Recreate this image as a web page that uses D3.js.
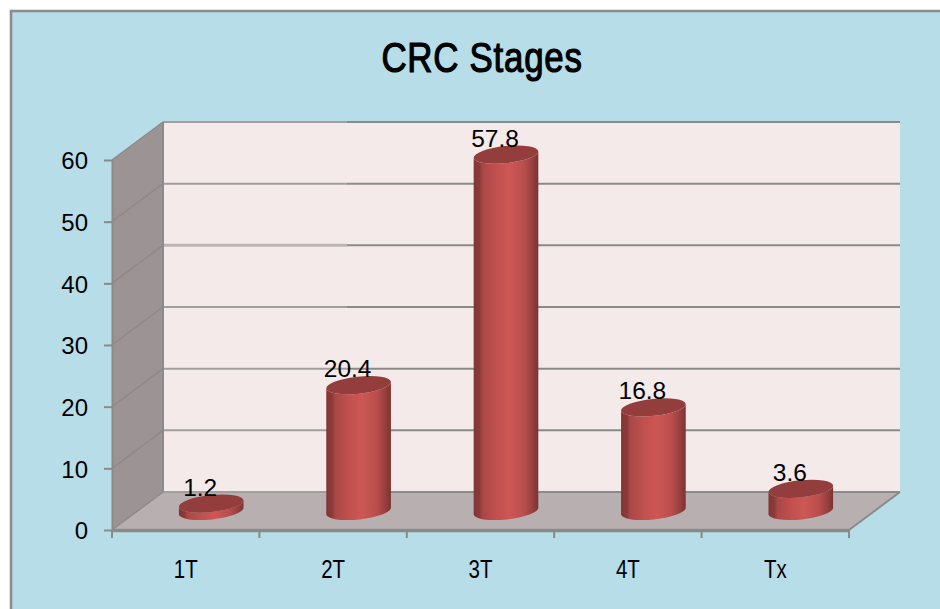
<!DOCTYPE html>
<html>
<head>
<meta charset="utf-8">
<script src="https://cdn.jsdelivr.net/npm/d3@7"></script>
<style>
    html, body { margin: 0; padding: 0; background: #fff; }
    svg { display: block; }
    text { fill: #000; font-family: 'Liberation Sans', sans-serif; }
</style>
</head>
<body>
<svg id="chart"></svg>
<script>
const categories = ["1T", "2T", "3T", "4T", "Tx"];
const values = [1.2, 20.4, 57.8, 16.8, 3.6];
const yTicks = [0, 10, 20, 30, 40, 50, 60];

const width = 940, height = 609;
const plot = { left: 112, right: 849, top: 160, bottom: 530 };
// how far the back wall sits from the front of the 3d box
const depth = { x: 51, y: -38 };

const svg = d3.select("#chart").attr("width", width).attr("height", height);

const xScale = d3.scaleBand().domain(categories).range([plot.left, plot.right]);
const yScale = d3.scaleLinear().domain([0, 60]).range([plot.bottom, plot.top]);

// frame, runs off the right and bottom of the picture
svg.append("rect")
    .attr("x", 11).attr("y", 11)
    .attr("width", width).attr("height", height)
    .attr("fill", "#b7dde8")
    .attr("stroke", "#8a8a8a")
    .attr("stroke-width", 2.5);

// no narrow font here, so squeeze the regular one
svg.append("text")
    .attr("transform", "translate(482,72) scale(0.83,1)")
    .attr("text-anchor", "middle")
    .style("font-size", "42px")
    .style("letter-spacing", "0.9px")
    .style("stroke", "#000")
    .style("stroke-width", 1.2)
    .text("CRC Stages");

// walls and floor
const yBack = v => yScale(v) + depth.y;
const poly = pts => "M" + pts.map(p => p.join(",")).join("L") + "Z";

svg.append("path")
    .attr("fill", "#f5eaea")
    .attr("d", poly([[plot.left + depth.x, yBack(60)], [plot.right + depth.x, yBack(60)], [plot.right + depth.x, yBack(0)], [plot.left + depth.x, yBack(0)]]));
svg.append("path")
    .attr("fill", "#9c9494")
    .attr("d", poly([[plot.left, yScale(60)], [plot.left + depth.x, yBack(60)], [plot.left + depth.x, yBack(0)], [plot.left, yScale(0)]]));
svg.append("path")
    .attr("fill", "#b8b0b0")
    .attr("d", poly([[plot.left, yScale(0)], [plot.left + depth.x, yBack(0)], [plot.right + depth.x, yBack(0)], [plot.right, yScale(0)]]));

// grid lines, the left part of each one is lighter in the original
const splitX = 347;
yTicks.forEach(t => {
    svg.append("line")
        .attr("x1", plot.left).attr("x2", plot.left + depth.x)
        .attr("y1", yScale(t)).attr("y2", yBack(t))
        .attr("stroke", "#8c8a8a").attr("stroke-width", 1.5);
    svg.append("line")
        .attr("x1", plot.left + depth.x).attr("x2", splitX)
        .attr("y1", yBack(t)).attr("y2", yBack(t))
        .attr("stroke", t == 40 ? "#bdb5b5" : "#a39e9e")
        .attr("stroke-width", t == 40 ? 3 : 2);
    svg.append("line")
        .attr("x1", splitX).attr("x2", plot.right + depth.x)
        .attr("y1", yBack(t)).attr("y2", yBack(t))
        .attr("stroke", "#8a8a8a").attr("stroke-width", 2);
});
svg.append("line")
    .attr("x1", plot.left + depth.x).attr("x2", plot.left + depth.x)
    .attr("y1", yBack(60)).attr("y2", yBack(0))
    .attr("stroke", "#8c8a8a").attr("stroke-width", 2);
svg.append("line")
    .attr("x1", plot.right).attr("x2", plot.right + depth.x)
    .attr("y1", yScale(0)).attr("y2", yBack(0))
    .attr("stroke", "#8c8a8a").attr("stroke-width", 2);

// y axis
const yAxisGroup = svg.append("g")
    .attr("transform", `translate(${plot.left},0)`)
    .call(d3.axisLeft(yScale).tickValues(yTicks).tickSize(8).tickSizeOuter(0).tickPadding(16));
yAxisGroup.select(".domain").attr("stroke", "#8a8a8a").attr("stroke-width", 2);
yAxisGroup.selectAll(".tick line").attr("stroke", "#8a8a8a").attr("stroke-width", 2);
yAxisGroup.selectAll(".tick text")
    .attr("y", 1)
    .style("font-family", "'Liberation Sans', sans-serif")
    .style("font-size", "24px")
    .style("fill", "#000");

// x axis, ticks sit on the band edges so they are added by hand
const xAxisGroup = svg.append("g")
    .attr("transform", `translate(0,${plot.bottom})`)
    .call(d3.axisBottom(xScale).tickSize(0).tickSizeOuter(0).tickPadding(30));
xAxisGroup.select(".domain").attr("stroke", "#8a8a8a").attr("stroke-width", 3.5);
xAxisGroup.selectAll(".tick text")
    .attr("transform", "scale(0.82,1)")
    .style("font-family", "'Liberation Sans', sans-serif")
    .style("font-size", "25px")
    .style("fill", "#000");
xAxisGroup.selectAll(".edge")
    .data(categories.map(c => xScale(c)).concat(plot.right))
    .join("line")
    .attr("class", "edge")
    .attr("x1", d => d).attr("x2", d => d)
    .attr("y1", 0).attr("y2", 8)
    .attr("stroke", "#8a8a8a").attr("stroke-width", 2);

// cylinder shading
const grad = svg.append("defs").append("linearGradient")
    .attr("id", "cyl").attr("x1", "0").attr("x2", "1").attr("y1", "0").attr("y2", "0");
[[0, "#823534"], [0.09, "#8c3a39"], [0.14, "#a84847"], [0.35, "#c1504e"], [0.55, "#cd5755"], [0.78, "#b94e4c"], [0.9, "#9a4140"], [1, "#7c3231"]]
    .forEach(s => grad.append("stop").attr("offset", s[0]).attr("stop-color", s[1]));

// bars stand half way into the box
const rx = 32.5, ry = 8.5, tilt = -6;
const dx = rx * Math.cos(tilt * Math.PI / 180), dy = rx * Math.sin(tilt * Math.PI / 180);
const barX = c => xScale(c) + xScale.bandwidth() / 2 + depth.x / 2;
const barY = v => yScale(v) + depth.y / 2;

const bars = svg.selectAll(".bar")
    .data(categories.map((c, i) => ({ c, v: values[i] })))
    .join("g")
    .attr("class", "bar");

bars.append("path")
    .attr("fill", "url(#cyl)")
    .attr("d", d => {
        const x = barX(d.c), yT = barY(d.v), yB = barY(0);
        return `M${x - dx},${yT - dy}L${x - dx},${yB - dy}A${rx},${ry} ${tilt} 0 0 ${x + dx},${yB + dy}L${x + dx},${yT + dy}A${rx},${ry} ${tilt} 0 1 ${x - dx},${yT - dy}Z`;
    });
bars.append("ellipse")
    .attr("rx", rx).attr("ry", ry)
    .attr("fill", "#933e3c")
    .attr("transform", d => `translate(${barX(d.c)},${barY(d.v)}) rotate(${tilt})`);
bars.append("text")
    .attr("x", d => barX(d.c) - 11)
    .attr("y", d => barY(d.v) - 8)
    .attr("text-anchor", "middle")
    .style("font-size", "24.5px")
    .text(d => d.v);
</script>
</body>
</html>
